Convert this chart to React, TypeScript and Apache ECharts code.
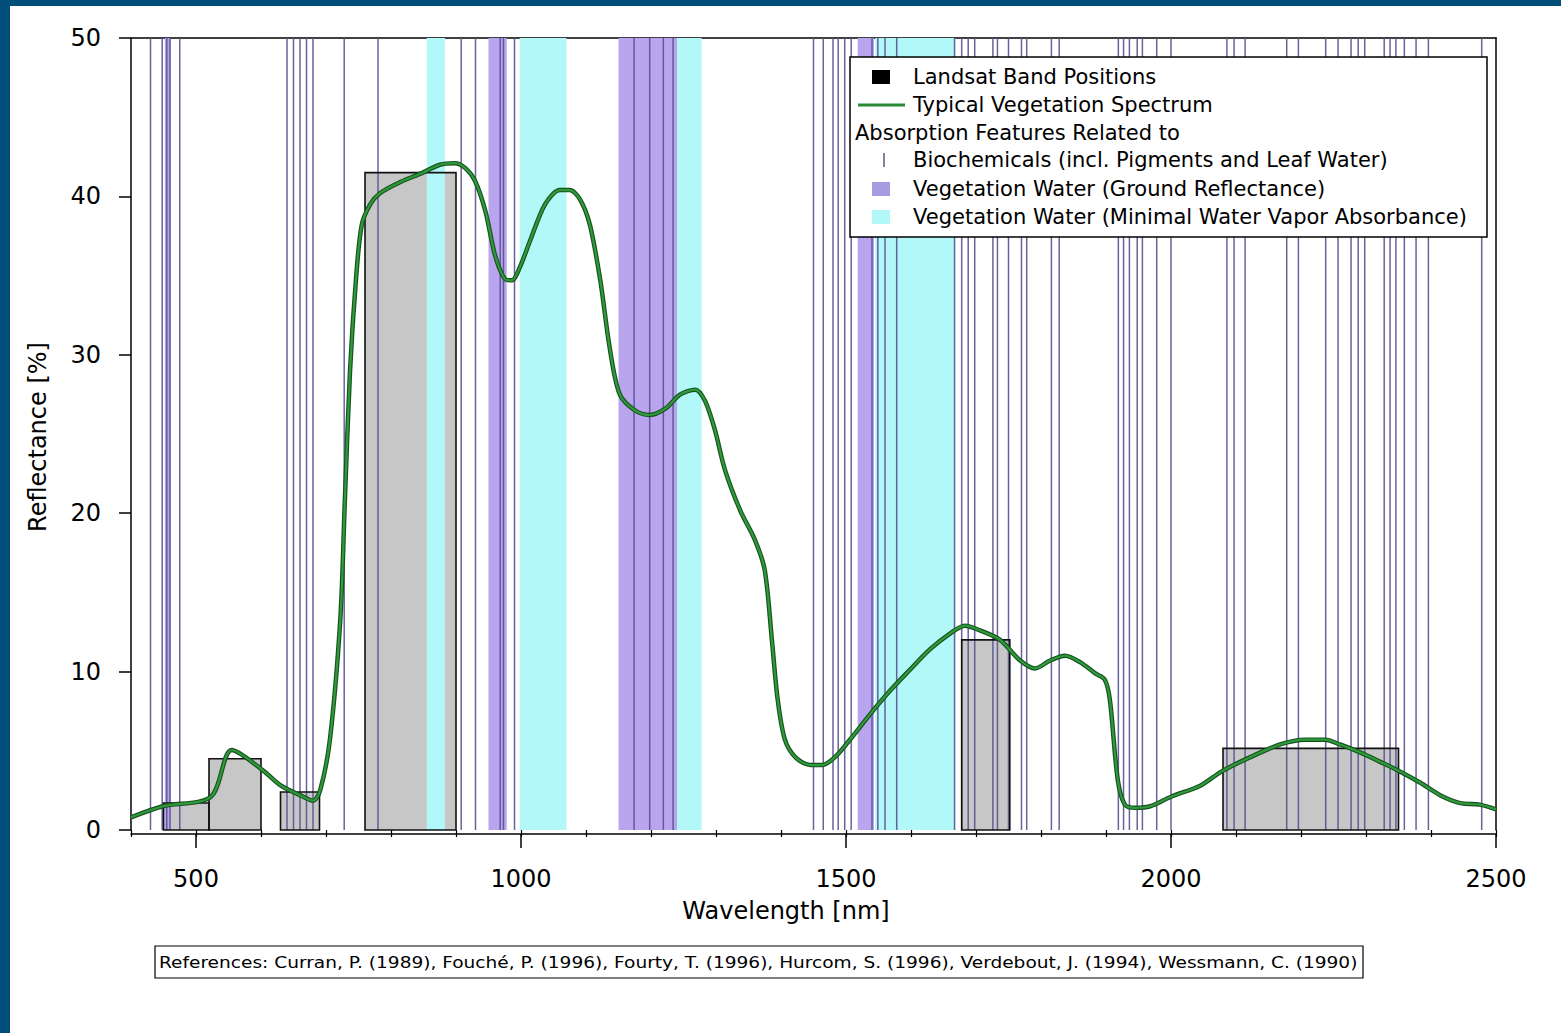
import React, { useEffect, useRef } from "react";
import * as echarts from "echarts";

// Typical vegetation spectrum (nm, %)
const wavelengths = [400, 449, 523, 555, 602, 629, 660, 680, 691, 706, 722, 729, 737, 746, 755, 768, 783, 814, 849, 875, 898, 914, 929, 945, 960, 975, 986, 998, 1014, 1037, 1060, 1075, 1091, 1106, 1122, 1137, 1152, 1175, 1198, 1222, 1245, 1268, 1283, 1298, 1314, 1337, 1360, 1375, 1386, 1395, 1406, 1422, 1445, 1463, 1483, 1506, 1537, 1568, 1598, 1629, 1660, 1683, 1706, 1737, 1768, 1791, 1814, 1837, 1860, 1883, 1898, 1906, 1918, 1929, 1945, 1968, 2000, 2045, 2078, 2122, 2168, 2206, 2237, 2260, 2291, 2322, 2352, 2383, 2414, 2445, 2475, 2500];
const reflectance = [0.8, 1.5, 2.1, 5.05, 3.8, 2.85, 2.2, 1.85, 2.5, 5.7, 13.3, 20.8, 29.0, 34.7, 38.2, 39.5, 40.2, 40.9, 41.5, 42.0, 42.1, 41.8, 41.0, 39.1, 36.3, 34.8, 34.7, 35.5, 37.2, 39.5, 40.4, 40.4, 39.8, 38.2, 34.7, 30.3, 27.5, 26.5, 26.2, 26.6, 27.5, 27.8, 27.1, 25.3, 22.7, 20.2, 18.3, 16.4, 12.0, 8.2, 5.7, 4.6, 4.1, 4.1, 4.6, 5.7, 7.3, 8.8, 10.1, 11.4, 12.4, 12.9, 12.6, 12.0, 10.7, 10.2, 10.7, 11.0, 10.6, 9.9, 9.5, 8.2, 3.2, 1.6, 1.4, 1.5, 2.1, 2.8, 3.7, 4.6, 5.4, 5.7, 5.7, 5.4, 4.9, 4.3, 3.7, 3.0, 2.2, 1.7, 1.6, 1.3];

// Landsat TM band positions
const bandStart = [450, 520, 630, 760, 1678, 2080];
const bandEnd = [520, 600, 690, 900, 1752, 2350];
const bandTop = [1.7, 4.5, 2.4, 41.5, 12.0, 5.15];

// Vegetation water (ground reflectance) regions
const purpleStart = [452, 950, 1150, 1518];
const purpleEnd = [461, 978, 1240, 1543];

// Vegetation water (minimal water vapor absorbance) regions
const cyanStart = [855, 998, 1240, 1545];
const cyanEnd = [883, 1070, 1278, 1668];

// Biochemical absorption features
const biochemLines = [430, 448, 455, 460, 475, 640, 650, 660, 670, 680, 728, 780, 908, 930, 968, 973, 990, 1174, 1198, 1219, 1234, 1450, 1465, 1480, 1488, 1498, 1508, 1540, 1549, 1560, 1578, 1667, 1678, 1688, 1698, 1726, 1733, 1750, 1770, 1778, 1816, 1828, 1919, 1927, 1936, 1948, 1956, 1978, 2000, 2086, 2097, 2114, 2178, 2196, 2238, 2257, 2277, 2288, 2298, 2328, 2337, 2346, 2359, 2377, 2396, 2478];

const xMajorTicks = [500, 1000, 1500, 2000, 2500];
const xMinorTicks = [400, 500, 600, 700, 800, 900, 1000, 1100, 1200, 1300, 1400, 1500, 1600, 1700, 1800, 1900, 2000, 2100, 2200, 2300, 2400, 2500];

const referencesText = "References: Curran, P. (1989), Fouché, P. (1996), Fourty, T. (1996), Hurcom, S. (1996), Verdebout, J. (1994), Wessmann, C. (1990)";

const FONT = "DejaVu Sans";
const PURPLE = "#b9a4ee";
const CYAN = "#b2f8f8";
const LINE_COL = "#585290";
const GREY = "#c7c7c7";

export default function App() {
  const ref = useRef<HTMLDivElement>(null);

  useEffect(() => {
    if (!ref.current) return;
    const chart = echarts.init(ref.current, null, { renderer: "svg" });

    const bandData = bandStart.map((s, i) => [s, bandEnd[i], bandTop[i]]);
    const purpleData = purpleStart.map((s, i) => [s, purpleEnd[i]]);
    const cyanData = cyanStart.map((s, i) => [s, cyanEnd[i]]);
    const lineData = biochemLines.map((w) => [w]);
    const spectrum = wavelengths.map((w, i) => [w, reflectance[i]]);

    const regionRender = (color: string) => (params: any, api: any) => {
      const p0 = api.coord([api.value(0), 50]);
      const p1 = api.coord([api.value(1), 0]);
      return {
        type: "rect",
        shape: { x: p0[0], y: p0[1], width: p1[0] - p0[0], height: p1[1] - p0[1] },
        style: { fill: color },
      };
    };

    const bandRender = (fill: string, stroke: string) => (params: any, api: any) => {
      const p0 = api.coord([api.value(0), api.value(2)]);
      const p1 = api.coord([api.value(1), 0]);
      return {
        type: "rect",
        shape: { x: p0[0], y: p0[1], width: p1[0] - p0[0], height: p1[1] - p0[1] },
        style: { fill, stroke, lineWidth: stroke === "none" ? 0 : 1.6 },
      };
    };

    const txt = (x: number, y: number, text: string, size = 21, extra: any = {}, el: any = {}) => ({
      type: "text",
      x,
      y,
      z: 101,
      ...el,
      style: {
        text,
        fill: "#000",
        font: `${size}px "${FONT}"`,
        verticalAlign: "middle",
        ...extra,
      },
    });

    chart.setOption({
      animation: false,
      backgroundColor: "transparent",
      grid: { left: 131, top: 38, right: 65, bottom: 203, containLabel: false },
      xAxis: [
        {
          type: "value",
          min: 400,
          max: 2500,
          position: "bottom",
          offset: 4,
          axisLine: { show: true, onZero: false, lineStyle: { color: "#000", width: 1.5 } },
          axisTick: { show: true, customValues: xMajorTicks, length: 14, lineStyle: { color: "#000", width: 1.5 } },
          axisLabel: {
            show: true,
            customValues: xMajorTicks,
            formatter: (v: number) => String(v),
            fontSize: 24,
            fontFamily: FONT,
            color: "#000",
            margin: 33,
          },
          splitLine: { show: false },
        },
        {
          type: "value",
          min: 400,
          max: 2500,
          position: "bottom",
          offset: 4,
          axisLine: { show: false },
          axisTick: { show: true, customValues: xMinorTicks, length: 7, lineStyle: { color: "#000", width: 1.2 } },
          axisLabel: { show: false },
          splitLine: { show: false },
        },
        {
          type: "value",
          min: 400,
          max: 2500,
          position: "top",
          axisLine: { show: true, onZero: false, lineStyle: { color: "#000", width: 1.5 } },
          axisTick: { show: false },
          axisLabel: { show: false },
          splitLine: { show: false },
        },
      ],
      yAxis: [
        {
          type: "value",
          min: 0,
          max: 50,
          interval: 10,
          position: "left",
          axisLine: { show: true, onZero: false, lineStyle: { color: "#000", width: 1.5 } },
          axisTick: { show: true, length: 12, lineStyle: { color: "#000", width: 1.5 } },
          axisLabel: { fontSize: 24, fontFamily: FONT, color: "#000", margin: 30 },
          splitLine: { show: false },
        },
        {
          type: "value",
          min: 0,
          max: 50,
          position: "right",
          axisLine: { show: true, onZero: false, lineStyle: { color: "#000", width: 1.5 } },
          axisTick: { show: false },
          axisLabel: { show: false },
          splitLine: { show: false },
        },
      ],
      series: [
        {
          type: "custom",
          name: "bandFill",
          renderItem: bandRender(GREY, "none"),
          data: bandData,
          encode: { x: [0, 1], y: 2 },
          z: 1,
          silent: true,
        },
        {
          type: "custom",
          name: "purple",
          renderItem: regionRender(PURPLE),
          data: purpleData,
          encode: { x: [0, 1] },
          z: 2,
          silent: true,
        },
        {
          type: "custom",
          name: "cyan",
          renderItem: regionRender(CYAN),
          data: cyanData,
          encode: { x: [0, 1] },
          z: 2,
          silent: true,
        },
        {
          type: "custom",
          name: "biochem",
          renderItem: (params: any, api: any) => {
            const p0 = api.coord([api.value(0), 50]);
            const p1 = api.coord([api.value(0), 0]);
            return {
              type: "line",
              shape: { x1: p0[0], y1: p0[1], x2: p1[0], y2: p1[1] },
              style: { stroke: LINE_COL, lineWidth: 1.5, opacity: 0.9 },
            };
          },
          data: lineData,
          encode: { x: 0 },
          z: 3,
          silent: true,
        },
        {
          type: "custom",
          name: "bandOutline",
          renderItem: bandRender("none", "#111"),
          data: bandData,
          encode: { x: [0, 1], y: 2 },
          z: 4,
          silent: true,
        },
        {
          type: "line",
          name: "spectrumOutline",
          data: spectrum,
          smooth: 0.3,
          showSymbol: false,
          lineStyle: { color: "#17521f", width: 4.5 },
          z: 5,
          silent: true,
        },
        {
          type: "line",
          name: "spectrum",
          data: spectrum,
          smooth: 0.3,
          showSymbol: false,
          lineStyle: { color: "#2f9a3c", width: 2.2 },
          z: 6,
          silent: true,
        },
      ],
      graphic: [
        {
          type: "rect",
          z: 100,
          shape: { x: 850, y: 57, width: 637, height: 180 },
          style: { fill: "#fff", stroke: "#000", lineWidth: 1.5 },
        },
        { type: "rect", z: 101, shape: { x: 872, y: 70, width: 18, height: 14 }, style: { fill: "#000" } },
        txt(913, 77, "Landsat Band Positions"),
        { type: "line", z: 101, shape: { x1: 858, y1: 105, x2: 905, y2: 105 }, style: { stroke: "#2a8a36", lineWidth: 3 } },
        txt(913, 105, "Typical Vegetation Spectrum"),
        txt(855, 133, "Absorption Features Related to"),
        { type: "line", z: 101, shape: { x1: 884, y1: 153, x2: 884, y2: 167 }, style: { stroke: LINE_COL, lineWidth: 1.5 } },
        txt(913, 160, "Biochemicals (incl. Pigments and Leaf Water)"),
        { type: "rect", z: 101, shape: { x: 872, y: 182, width: 18, height: 14 }, style: { fill: "#a99be2" } },
        txt(913, 189, "Vegetation Water (Ground Reflectance)"),
        { type: "rect", z: 101, shape: { x: 872, y: 210, width: 18, height: 14 }, style: { fill: CYAN } },
        txt(913, 217, "Vegetation Water (Minimal Water Vapor Absorbance)"),
        txt(38, 437, "Reflectance [%]", 24, { align: "center" }, { rotation: Math.PI / 2 }),
        txt(786, 911, "Wavelength [nm]", 24, { align: "center" }),
        {
          type: "rect",
          z: 100,
          shape: { x: 155, y: 946, width: 1208, height: 32 },
          style: { fill: "#fff", stroke: "#000", lineWidth: 1.2 },
        },
        txt(159, 962, referencesText, 16, {}, { scaleX: 1.16 }),
      ],
    });

    return () => chart.dispose();
  }, []);

  return (
    <div style={{ position: "fixed", left: 0, top: 0, width: 1561, height: 1033, background: "#fff" }}>
      <div ref={ref} style={{ position: "absolute", left: 0, top: 0, width: 1561, height: 1033 }} />
      <div style={{ position: "absolute", left: 0, top: 0, width: 1561, height: 6, background: "#004e7a" }} />
      <div style={{ position: "absolute", left: 0, top: 0, width: 10, height: 1033, background: "#004e7a" }} />
    </div>
  );
}
